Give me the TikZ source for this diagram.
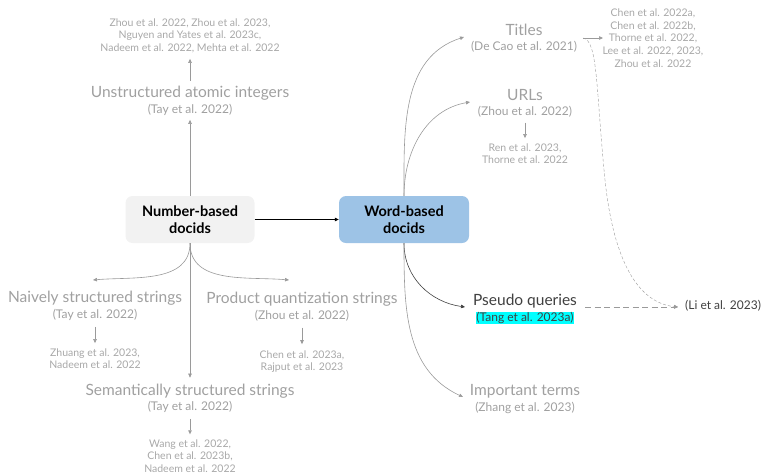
\documentclass[tikz,border=0pt]{standalone}
\usepackage{fontspec}
\setmainfont{Lato}
\usetikzlibrary{arrows.meta}
\definecolor{lab}{HTML}{A0A0A0}
\definecolor{refc}{HTML}{A8A8A8}
\definecolor{ln}{HTML}{9A9A9A}
\definecolor{dk}{HTML}{404040}
\definecolor{blu}{HTML}{9DC3E6}
\definecolor{gry}{HTML}{F2F2F2}
\definecolor{cy}{HTML}{00FFFF}
\begin{document}
\begin{tikzpicture}[x=1pt,y=1pt,
 lab/.style={text=lab,font=\fontsize{15.5}{17}\selectfont,inner sep=0pt},
 cit/.style={text=lab,font=\fontsize{12}{14}\selectfont,inner sep=0pt},
 refs/.style={text=refc,font=\fontsize{10.5}{12.6}\selectfont,align=center,inner sep=0pt},
 box/.style={rounded corners=7pt,minimum width=129pt,minimum height=47pt,align=center,font=\fontsize{14.5}{17}\selectfont\bfseries,inner sep=0pt},
 arr/.style={draw=ln,line width=0.6pt,-{Triangle[length=4pt,width=3.5pt]}},
 darr/.style={draw=dk,line width=0.6pt,-{Triangle[length=4pt,width=3.5pt]}},
]
\useasboundingbox (0,0) rectangle (761,-475);

% main boxes
\node[box,fill=gry] (nb) at (190,-219.5) {Number-based\\docids};
\node[box,fill=blu,minimum width=130pt] (wb) at (404,-219.5) {Word-based\\docids};
\draw[line width=0.7pt,-{Triangle[length=4pt,width=3.5pt]}] (nb.east) -- (wb.west);

% Unstructured atomic integers
\node[lab] (ua) at (190,-93) {Unstructured atomic integers};
\node[cit] (uac) at (190,-110) {(Tay et al. 2022)};
\node[refs] (uar) at (190,-35.5) {Zhou et al. 2022, Zhou et al. 2023,\\Nguyen and Yates et al. 2023c,\\Nadeem et al. 2022, Mehta et al. 2022};
\draw[arr,shorten >=4pt] (nb.north) -- (uac.south);
\draw[arr,shorten <=5pt,shorten >=6pt] (ua.north) -- (uar.south);

% Naively structured strings
\node[lab] (ns) at (95,-298) {Naively structured strings};
\node[cit] (nsc) at (95,-315) {(Tay et al. 2022)};
\node[refs] (nsr) at (95,-358.5) {Zhuang et al. 2023,\\Nadeem et al. 2022};
\coordinate (nsin) at (93,-280);
\draw[arr] (nb.south) to[out=-90,in=5] (nsin);
\draw[arr,shorten <=6pt,shorten >=5pt] (nsc.south) -- (nsr.north -| nsc.south);

% Product quantization strings
\node[lab] (pq) at (302,-299) {Product quantization strings};
\node[cit] (pqc) at (302,-316) {(Zhou et al. 2022)};
\node[refs] (pqr) at (302,-361.5) {Chen et al. 2023a,\\Rajput et al. 2023};
\coordinate (pqin) at (289,-280);
\draw[arr] (nb.south) to[out=-90,in=175] (pqin);
\draw[arr,shorten <=6pt,shorten >=6pt] (pqc.south) -- (pqr.north -| pqc.south);

% Semantically structured strings
\node[lab] (ss) at (190,-391) {Semantically structured strings};
\node[cit] (ssc) at (190,-407) {(Tay et al. 2022)};
\node[refs] (ssr) at (190,-456) {Wang et al. 2022,\\Chen et al. 2023b,\\Nadeem et al. 2022};
\draw[arr,shorten >=6pt] (nb.south) -- (ss.north);
\draw[arr,shorten <=6pt,shorten >=5pt] (ssc.south) -- (ssr.north);

% Titles
\node[lab] (ti) at (524,-30) {Titles};
\node[cit] (tic) at (524,-47) {(De Cao et al. 2021)};
\node[refs] (tir) at (653,-38) {Chen et al. 2022a,\\Chen et al. 2022b,\\Thorne et al. 2022,\\Lee et al. 2022, 2023,\\Zhou et al. 2022};
\coordinate (tiin) at (464,-37);
\coordinate (tiout) at (583,-38);
\draw[arr] (wb.north) to[out=90,in=198] (tiin);
\draw[arr] (tiout) -- (603,-38);

% URLs
\node[lab] (ur) at (525,-95) {URLs};
\node[cit] (urc) at (525,-112) {(Zhou et al. 2022)};
\node[refs] (urr) at (525,-153.5) {Ren et al. 2023,\\Thorne et al. 2022};
\coordinate (urin) at (470,-102);
\draw[arr] (wb.north) to[out=90,in=190] (urin);
\draw[arr,shorten <=5pt,shorten >=5pt] (urc.south) -- (urr.north);

% Pseudo queries
\node[text=dk,font=\fontsize{15.5}{17}\selectfont,inner sep=0pt] (pseq) at (525,-301) {Pseudo queries};
\node[fill=cy,text=dk,font=\fontsize{12}{14}\selectfont,inner sep=0.6pt] (pseqc) at (525,-318) {(Tang et al. 2023a)};
\coordinate (pqsin) at (465,-307);
\draw[darr] (wb.south) to[out=-90,in=172] (pqsin);
\node[text=dk,font=\fontsize{12}{14}\selectfont,inner sep=0pt,anchor=west] (li) at (685,-305.5) {(Li et al. 2023)};
\coordinate (liin) at (678,-307);
\draw[arr,dashed,dash pattern=on 6pt off 3.5pt,line width=0.8pt] (585,-307) -- (liin);
\draw[arr,dashed,dash pattern=on 3pt off 2pt,line width=0.4pt] (tiout) .. controls (598,-40) and (596,-90) .. (605,-180) .. controls (614,-265) and (640,-303) .. (liin);

% Important terms
\node[lab] (it) at (525,-391) {Important terms};
\node[cit] (itc) at (525,-408) {(Zhang et al. 2023)};
\coordinate (itin) at (463,-397);
\draw[arr] (wb.south) to[out=-90,in=155] (itin);
\end{tikzpicture}
\end{document}
